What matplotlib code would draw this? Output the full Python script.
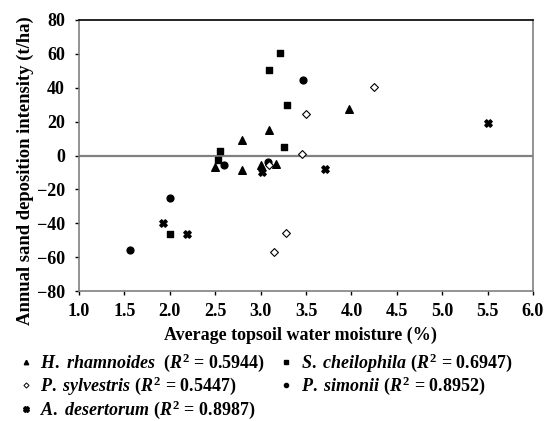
import matplotlib
matplotlib.use("Agg")
import matplotlib.pyplot as plt
from matplotlib.lines import Line2D

plt.rcParams['font.family'] = ['Liberation Serif', 'DejaVu Serif']
plt.rcParams['font.weight'] = 'bold'
plt.rcParams['mathtext.fontset'] = 'custom'
plt.rcParams['mathtext.rm'] = 'Liberation Serif:bold'
plt.rcParams['mathtext.it'] = 'Liberation Serif:bold:italic'
plt.rcParams['mathtext.bf'] = 'Liberation Serif:bold'

# Data (topsoil water moisture %, sand deposition t/ha)
h_rham_x = [3.09, 2.80, 2.50, 2.80, 3.00, 3.17, 3.97]
h_rham_y = [15.1, 9.2, -7.0, -8.6, -5.8, -4.9, 27.7]
s_chei_x = [3.09, 3.21, 3.29, 3.26, 2.55, 2.53, 2.00]
s_chei_y = [50.2, 60.6, 29.7, 5.2, 2.7, -2.9, -46.5]
p_sylv_x = [3.50, 3.46, 3.09, 3.28, 3.15, 4.25]
p_sylv_y = [24.6, 1.1, -5.8, -45.5, -56.8, 40.2]
p_simo_x = [1.565, 2.00, 2.60, 3.08, 3.47]
p_simo_y = [-55.6, -24.8, -5.8, -3.9, 44.7]
a_dese_x = [1.93, 2.19, 3.01, 3.71, 5.50]
a_dese_y = [-39.6, -46.5, -10.0, -7.8, 19.3]

x_ticks = [1.0, 1.5, 2.0, 2.5, 3.0, 3.5, 4.0, 4.5, 5.0, 5.5, 6.0]
y_ticks = [-80, -60, -40, -20, 0, 20, 40, 60, 80]

labels = {
    'h': r"$\it{H.\ rhamnoides}$  ($\it{R}^2$ = 0.5944)",
    's': r"$\it{S.\ cheilophila}$ ($\it{R}^2$ = 0.6947)",
    'p': r"$\it{P.\ sylvestris}$ ($\it{R}^2$ = 0.5447)",
    'm': r"$\it{P.\ simonii}$ ($\it{R}^2$ = 0.8952)",
    'a': r"$\it{A.\ desertorum}$ ($\it{R}^2$ = 0.8987)",
}

fig = plt.figure(figsize=(5.58, 4.21), dpi=100)
ax = fig.add_axes([79/558, 1-291/421, (533-79)/558, (291-20)/421])

ax.axhline(0, color='#808080', lw=1.6, zorder=1)

ax.scatter(h_rham_x, h_rham_y, marker='^', s=30, c='black', zorder=3)
ax.scatter(s_chei_x, s_chei_y, marker='s', s=24, c='black', zorder=3)
ax.scatter(p_simo_x, p_simo_y, marker='o', s=24, c='black', zorder=3)
ax.scatter(p_sylv_x, p_sylv_y, marker='D', s=16, facecolors='white', edgecolors='black', linewidths=0.8, zorder=4)
ax.scatter(a_dese_x, a_dese_y, marker='X', s=28, c='black', zorder=3)

ax.set_xlim(1.0, 6.0)
ax.set_ylim(-80, 80)
ax.set_xticks(x_ticks)
ax.set_xticklabels([f"{v:.1f}" for v in x_ticks])
ax.set_yticks(y_ticks)
ax.set_yticklabels([str(v).replace('-', '\u2212') for v in y_ticks])
ax.tick_params(axis='both', labelsize=13, length=3, width=1, color='black')
ax.tick_params(axis='x', pad=6)
ax.tick_params(axis='y', pad=7)
for sp in ['left', 'bottom', 'right']:
    ax.spines[sp].set_color('#808080')
    ax.spines[sp].set_linewidth(1.2)
ax.spines['top'].set_color('black')
ax.spines['top'].set_linewidth(1.2)

ax.set_xlabel("Average topsoil water moisture (%)", fontsize=13, fontweight='bold')
ax.xaxis.set_label_coords(0.487, -0.132)
ax.xaxis.label.set_va('top')
ax.set_ylabel("Annual sand deposition intensity (t/ha)", fontsize=13.4, fontweight='bold')
ax.yaxis.set_label_coords(-0.119, 0.443)
ax.yaxis.label.set_va('center')

handles = [
    Line2D([], [], ls='none', marker='^', color='black', ms=3.2),
    Line2D([], [], ls='none', marker='D', mfc='white', mec='black', ms=2.6, mew=0.7),
    Line2D([], [], ls='none', marker='X', color='black', ms=4),
    Line2D([], [], ls='none', marker='s', color='black', ms=3),
    Line2D([], [], ls='none', marker='o', color='black', ms=3),
]
leg_labels = [labels['h'], labels['p'], labels['a'], labels['s'], labels['m']]
fig.legend(handles, leg_labels, ncol=2, loc='upper left', bbox_to_anchor=(0.036, 0.165),
           frameon=False, fontsize=13, handlelength=0.6, handletextpad=0.5,
           columnspacing=0.9, labelspacing=0.05, borderpad=0, borderaxespad=0)

fig.savefig("out.png", dpi=100)
